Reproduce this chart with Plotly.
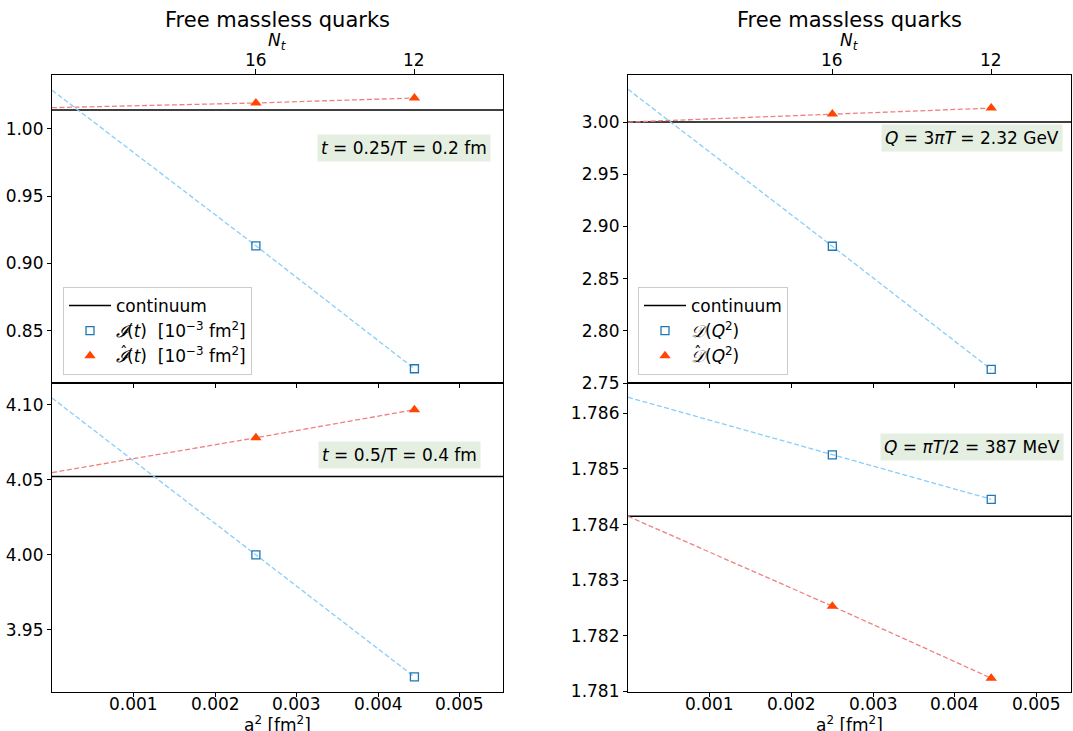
import plotly.graph_objects as go

# ---------------- data ----------------
a2 = [0.0025, 0.004444]          # lattice spacing squared [fm^2] for Nt=16, 12
nt_labels = ["16", "12"]
x_ticks = [0.001, 0.002, 0.003, 0.004, 0.005]
x_tick_labels = ["0.001", "0.002", "0.003", "0.004", "0.005"]

# top-left: t = 0.2 fm
I_t1 = [0.9131, 0.8217]
Ihat_t1 = [1.0193, 1.0230]
I_t1_fit0 = 1.0288
Ihat_t1_fit0 = 1.0158
cont_t1 = 1.0141

# bottom-left: t = 0.4 fm
I_t2 = [4.0000, 3.9187]
Ihat_t2 = [4.0780, 4.0967]
I_t2_fit0 = 4.1045
Ihat_t2_fit0 = 4.0548
cont_t2 = 4.0522

# top-right: Q = 2.32 GeV
D_q1 = [2.8810, 2.7630]
Dhat_q1 = [3.0077, 3.0134]
D_q1_fit0 = 3.0314
Dhat_q1_fit0 = 3.0000
cont_q1 = 3.0000

# bottom-right: Q = 387 MeV
D_q2 = [1.785252, 1.784455]
Dhat_q2 = [1.782534, 1.781239]
D_q2_fit0 = 1.786289
Dhat_q2_fit0 = 1.784150
cont_q2 = 1.784150

# ---------------- styling ----------------
W, H = 1073, 731
FONT = "DejaVu Sans"
FS = 17
BLUE = "#1f77b4"
RED = "#ff4500"
LBLUE = "#87cefa"
LRED = "#f08080"
BOXC = "#e4eee1"
XL = [0, 0.00553]
XR = [0, 0.00542]

def px(x):
    return x / W

def py(y):
    return 1 - y / H

dom_xl = [px(52), px(503)]
dom_xr = [px(628), px(1071)]
dom_top = [py(383), py(75)]
dom_bot = [py(691.5), py(383)]

fig = go.Figure()

def panel(xa, ya, xtopa, vals, hat, fit0, hatfit0, cont, xr, name_v, name_h, legend, showleg):
    fx = [xr[0]] + a2
    fig.add_trace(go.Scatter(x=xr, y=[cont, cont], mode="lines",
                             line=dict(color="black", width=1.5),
                             name="continuum", legend=legend, showlegend=showleg,
                             xaxis=xa, yaxis=ya))
    fig.add_trace(go.Scatter(x=fx, y=[fit0] + vals, mode="lines",
                             line=dict(color=LBLUE, width=1.3, dash="5px,2.5px"),
                             showlegend=False, xaxis=xa, yaxis=ya))
    fig.add_trace(go.Scatter(x=fx, y=[hatfit0] + hat, mode="lines",
                             line=dict(color=LRED, width=1.3, dash="5px,2.5px"),
                             showlegend=False, xaxis=xa, yaxis=ya))
    fig.add_trace(go.Scatter(x=a2, y=vals, mode="markers",
                             marker=dict(symbol="square-open", size=8, color=BLUE,
                                         line=dict(width=1.3, color=BLUE)),
                             name=name_v, legend=legend, showlegend=showleg,
                             xaxis=xa, yaxis=ya))
    fig.add_trace(go.Scatter(x=a2, y=hat, mode="markers",
                             marker=dict(symbol="triangle-up", size=10, color=RED),
                             name=name_h, legend=legend, showlegend=showleg,
                             xaxis=xa, yaxis=ya))
    if xtopa:
        # invisible trace so that the top N_t axis is drawn
        fig.add_trace(go.Scatter(x=a2, y=hat, mode="markers", opacity=0,
                                 showlegend=False, hoverinfo="skip",
                                 xaxis=xtopa, yaxis=ya))

panel("x", "y", "x2", I_t1, Ihat_t1, I_t1_fit0, Ihat_t1_fit0, cont_t1, XL,
      "<i>𝓘</i>(<i>t</i>)  [10<sup>−3</sup> fm<sup>2</sup>]",
      "<i>𝓘</i>(<i>t</i>)  [10<sup>−3</sup> fm<sup>2</sup>]", "legend", True)
panel("x3", "y3", None, I_t2, Ihat_t2, I_t2_fit0, Ihat_t2_fit0, cont_t2, XL, "", "", "legend", False)
panel("x4", "y4", "x5", D_q1, Dhat_q1, D_q1_fit0, Dhat_q1_fit0, cont_q1, XR,
      "<i>𝒟</i>(<i>Q</i><sup>2</sup>)",
      "<i>𝒟</i>(<i>Q</i><sup>2</sup>)", "legend2", True)
panel("x6", "y6", None, D_q2, Dhat_q2, D_q2_fit0, Dhat_q2_fit0, cont_q2, XR, "", "", "legend2", False)

tickfont = dict(family=FONT, size=FS, color="black")
common = dict(showline=True, linecolor="black", linewidth=1.2, mirror=True,
              showgrid=False, zeroline=False, ticks="outside", ticklen=4,
              tickcolor="black", tickwidth=1, tickfont=tickfont, automargin=False)

def xbottom(dom, rng, anchor):
    d = dict(common)
    d.update(domain=dom, range=rng, anchor=anchor, tickvals=x_ticks,
             showticklabels=False)
    return d

def xtop(over, dom, rng, anchor):
    return dict(overlaying=over, side="top", anchor=anchor, range=rng, domain=dom,
                tickvals=a2, showticklabels=False, ticks="outside", ticklen=5,
                tickcolor="black", showline=False, showgrid=False, zeroline=False,
                automargin=False)

def yax(dom, rng, anchor, tv, tt):
    d = dict(common)
    d.update(domain=dom, range=rng, anchor=anchor, tickvals=tv, ticktext=tt)
    return d

leg = dict(yanchor="top", xanchor="left", itemwidth=42,
           bgcolor="rgba(255,255,255,0.8)", bordercolor="#cccccc", borderwidth=1,
           font=dict(family=FONT, size=FS, color="black"))

fig.update_layout(
    width=W, height=H,
    margin=dict(l=0, r=0, t=0, b=0),
    paper_bgcolor="white", plot_bgcolor="white",
    font=dict(family=FONT, size=FS, color="black"),
    xaxis=xbottom(dom_xl, XL, "y"),
    xaxis2=xtop("x", dom_xl, XL, "y"),
    yaxis=yax(dom_top, [0.8111, 1.0401], "x", [0.85, 0.90, 0.95, 1.00],
              ["0.85", "0.90", "0.95", "1.00"]),
    xaxis3=xbottom(dom_xl, XL, "y3"),
    yaxis3=yax(dom_bot, [3.9089, 4.1145], "x3", [3.95, 4.00, 4.05, 4.10],
               ["3.95", "4.00", "4.05", "4.10"]),
    xaxis4=xbottom(dom_xr, XR, "y4"),
    xaxis5=xtop("x4", dom_xr, XR, "y4"),
    yaxis4=yax(dom_top, [2.75, 3.0451], "x4", [2.75, 2.80, 2.85, 2.90, 2.95, 3.00],
               ["2.75", "2.80", "2.85", "2.90", "2.95", "3.00"]),
    xaxis6=xbottom(dom_xr, XR, "y6"),
    yaxis6=yax(dom_bot, [1.781, 1.786545], "x6",
               [1.781, 1.782, 1.783, 1.784, 1.785, 1.786],
               ["1.781", "1.782", "1.783", "1.784", "1.785", "1.786"]),
    legend=dict(leg, x=px(63), y=py(287)),
    legend2=dict(leg, x=px(638), y=py(287)),
)

txtfont = dict(family=FONT, size=FS, color="black")
ann = []
for xc in [(52 + 503) / 2, (628 + 1071) / 2]:
    ann.append(dict(text="Free massless quarks", x=px(xc), y=py(20), xref="paper",
                    yref="paper", showarrow=False, xanchor="center", yanchor="middle",
                    font=dict(family=FONT, size=21, color="black")))
    ann.append(dict(text="<i>N</i><sub><i>t</i></sub>", x=px(xc), y=py(42), xref="paper",
                    yref="paper", showarrow=False, xanchor="center", yanchor="middle",
                    font=txtfont))
    ann.append(dict(text="a<sup>2</sup> [fm<sup>2</sup>]", x=px(xc), y=py(724), xref="paper",
                    yref="paper", showarrow=False, xanchor="center", yanchor="middle",
                    font=txtfont))
# tick labels placed through the axes' own data coordinates
for xr_ in ["x3", "x6"]:
    for v, t in zip(x_ticks, x_tick_labels):
        ann.append(dict(text=t, x=v, xref=xr_, y=py(704), yref="paper", showarrow=False,
                        xanchor="center", yanchor="middle", font=txtfont))
for xr_ in ["x2", "x5"]:
    for v, t in zip(a2, nt_labels):
        ann.append(dict(text=t, x=v, xref=xr_, y=py(60), yref="paper", showarrow=False,
                        xanchor="center", yanchor="middle", font=txtfont))
# hats over the calligraphic symbols in the legends
for hx in [124, 698]:
    ann.append(dict(text="ˆ", x=px(hx), y=py(353), xref="paper", yref="paper",
                    showarrow=False, xanchor="center", yanchor="middle",
                    font=dict(family=FONT, size=15, color="black")))
boxes = [
    ("<i>t</i> = 0.25/T = 0.2 fm", 403.5, 147.5),
    ("<i>t</i> = 0.5/T = 0.4 fm", 399, 455),
    ("<i>Q</i> = 3<i>π</i><i>T</i> = 2.32 GeV", 972, 138),
    ("<i>Q</i> = <i>πT</i>/2 = 387 MeV", 972, 447),
]
for txt, xc, yc in boxes:
    ann.append(dict(text=txt, x=px(xc), y=py(yc), xref="paper", yref="paper",
                    showarrow=False, xanchor="center", yanchor="middle",
                    bgcolor=BOXC, borderpad=3, font=txtfont))
fig.update_layout(annotations=ann)

fig.write_html("out.html", config={"displayModeBar": False},
               post_script="document.body.style.margin='0';document.body.style.overflow='hidden';")
